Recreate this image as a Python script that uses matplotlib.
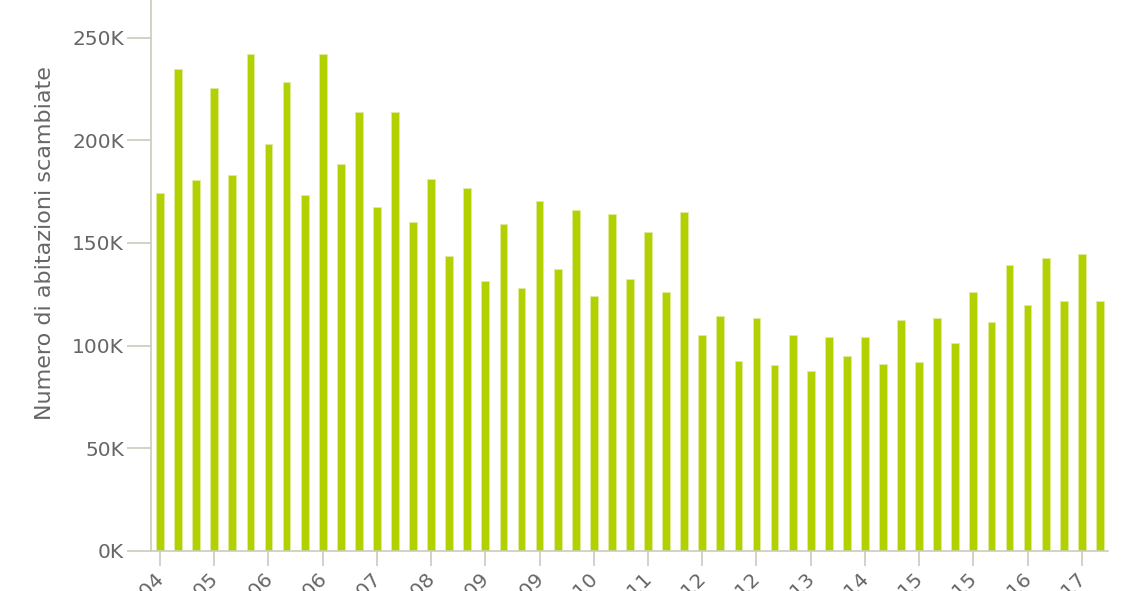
import numpy as np
import matplotlib
matplotlib.use("Agg")
import matplotlib.pyplot as plt
from matplotlib.ticker import FuncFormatter
from matplotlib.transforms import ScaledTranslation

# quarterly home sales, Q3 2004 .. Q3 2017 (thousands)
vendite = [174.2, 234.8, 180.5, 225.5, 183.3, 242.2, 198.0, 228.3, 173.2, 242.2,
           188.7, 213.6, 167.7, 213.6, 160.3, 181.4, 143.8, 176.8, 131.6, 159.3,
           128.0, 170.3, 137.3, 165.9, 124.3, 163.9, 132.6, 155.6, 126.2, 164.9,
           105.0, 114.3, 92.3, 113.4, 90.4, 105.0, 87.6, 104.0, 94.9, 104.0,
           91.3, 112.5, 92.1, 113.4, 101.3, 126.2, 111.5, 139.1, 119.9, 142.9,
           121.8, 144.8, 121.8]

# one label every three quarters
etichette = ["T3-04", "T2-05", "T1-06", "T4-06", "T3-07", "T2-08", "T1-09",
             "T4-09", "T3-10", "T2-11", "T1-12", "T4-12", "T3-13", "T2-14",
             "T1-15", "T4-15", "T3-16", "T2-17"]

verde = "#b3d100"
grigio_asse = "#ccccbb"
grigio_testo = "#666666"

fig = plt.figure(figsize=(11.28, 5.91), dpi=100)
# plot area runs above the visible image (300K top is cropped away)
ax = fig.add_axes([151 / 1128, 40 / 591, (1108 - 151) / 1128, 616 / 591])

x = np.arange(len(vendite))
ax.bar(x, np.array(vendite) * 1000, width=0.43, color=verde,
       edgecolor="#dfeb9c", linewidth=0.6)

ax.set_xlim(-0.5, 52.45)
ax.set_ylim(0, 300000)

ax.set_yticks(np.arange(0, 300001, 50000))
ax.yaxis.set_major_formatter(FuncFormatter(lambda v, p: f"{int(v / 1000)}K"))
ax.set_xticks(x[::3])
ax.set_xticklabels([])

# slanted labels, placed by hand so they end right under their tick
tr = ax.get_xaxis_transform() + ScaledTranslation(0.08, -0.195, fig.dpi_scale_trans)
for pos, lab in zip(x[::3], etichette):
    ax.text(pos, 0, lab, transform=tr, rotation=45, ha="right", va="top",
            fontsize=14.5, color=grigio_testo, clip_on=False)

for s in ["top", "right"]:
    ax.spines[s].set_visible(False)
for s in ["left", "bottom"]:
    ax.spines[s].set_color(grigio_asse)
    ax.spines[s].set_linewidth(1.2)

ax.tick_params(axis="y", length=17, width=1.2, color=grigio_asse,
               labelsize=14.5, labelcolor=grigio_testo, pad=2.5)
ax.tick_params(axis="x", length=11, width=1.2, color=grigio_asse)

ax.set_ylabel("Numero di abitazioni scambiate", fontsize=16,
              color=grigio_testo, labelpad=12)

fig.savefig("out.png", dpi=100)
